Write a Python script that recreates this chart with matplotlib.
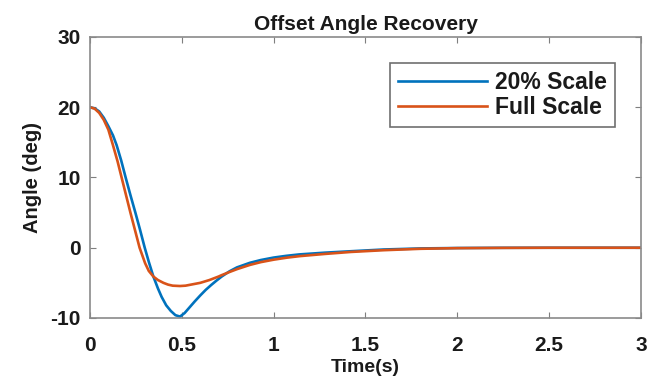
#!/usr/bin/env python3
"""Offset angle recovery: 20% scale model vs full scale response."""
import matplotlib

matplotlib.use("Agg")
import matplotlib.pyplot as plt  # noqa: E402

# time samples (s) and angle response (deg) for each model
t_small = [0.0, 0.025, 0.05, 0.075, 0.1, 0.125, 0.145, 0.17, 0.194, 0.22,
           0.247, 0.272, 0.298, 0.32, 0.345, 0.37, 0.39, 0.415, 0.44, 0.465,
           0.49, 0.515, 0.545, 0.57, 0.6, 0.63, 0.66, 0.69, 0.717, 0.76, 0.8,
           0.87, 0.93, 1.0, 1.07, 1.14, 1.28, 1.42, 1.6, 1.8, 2.0, 2.25, 2.5,
           3.0]
angle_small = [20.0, 19.85, 19.4, 18.5, 17.3, 16.0, 14.6, 12.4, 10.0, 7.5,
               5.0, 2.6, 0.0, -2.0, -4.1, -5.8, -7.0, -8.2, -9.0, -9.6,
               -9.8, -9.3, -8.4, -7.65, -6.8, -6.0, -5.3, -4.65, -4.1, -3.35,
               -2.8, -2.15, -1.75, -1.4, -1.15, -0.95, -0.7, -0.5, -0.25,
               -0.1, -0.04, -0.01, 0.0, 0.0]

t_full = [0.0, 0.025, 0.05, 0.075, 0.1, 0.125, 0.15, 0.172, 0.196, 0.22,
          0.245, 0.27, 0.3, 0.32, 0.345, 0.37, 0.4, 0.425, 0.45, 0.49, 0.52,
          0.55, 0.6, 0.65, 0.7, 0.717, 0.76, 0.8, 0.87, 0.93, 1.0, 1.07,
          1.14, 1.28, 1.42, 1.6, 1.8, 2.0, 2.25, 2.5, 3.0]
angle_full = [20.0, 19.8, 19.2, 18.2, 16.8, 14.6, 12.3, 10.0, 7.5, 5.0,
              2.5, 0.0, -2.2, -3.3, -4.1, -4.6, -5.0, -5.25, -5.4, -5.45,
              -5.4, -5.25, -5.0, -4.6, -4.1, -3.9, -3.45, -3.05, -2.45,
              -2.05, -1.7, -1.42, -1.2, -0.88, -0.6, -0.35, -0.15, -0.06,
              -0.02, 0.0, 0.0]

x_ticks = [0, 0.5, 1, 1.5, 2, 2.5, 3]
x_tick_labels = ["0", "0.5", "1", "1.5", "2", "2.5", "3"]
y_ticks = [-10, 0, 10, 20, 30]

plt.rcParams["font.family"] = ["Liberation Sans", "DejaVu Sans"]
plt.rcParams["font.weight"] = "bold"
plt.rcParams["axes.unicode_minus"] = False

fig, ax = plt.subplots(figsize=(6.57, 3.81), dpi=100)
fig.subplots_adjust(left=0.137, right=0.9756, top=0.9029, bottom=0.1654)

ax.plot(t_small, angle_small, color="#0072BD", linewidth=1.9, label="20% Scale")
ax.plot(t_full, angle_full, color="#D95319", linewidth=1.9, label="Full Scale")

ax.set_xlim(0, 3)
ax.set_ylim(-10, 30)
ax.set_xticks(x_ticks)
ax.set_xticklabels(x_tick_labels)
ax.set_yticks(y_ticks)

ax.tick_params(direction="in", top=True, right=True, length=4, width=0.8,
               colors="#7f7f7f", labelcolor="#1a1a1a", labelsize=15)
ax.tick_params(axis="x", pad=13)
ax.tick_params(axis="y", pad=6.5)
for spine in ax.spines.values():
    spine.set_color("#8a8a8a")
    spine.set_linewidth(1.2)

ax.set_title("Offset Angle Recovery", fontsize=15, fontweight="bold",
             color="#1a1a1a", pad=5)
ax.set_xlabel("Time(s)", fontsize=14, fontweight="bold", color="#1a1a1a",
              labelpad=3)
ax.set_ylabel("Angle (deg)", fontsize=14.5, fontweight="bold",
              color="#1a1a1a", labelpad=6)

leg = ax.legend(loc="upper right", bbox_to_anchor=(0.953, 0.907),
                borderaxespad=0, fontsize=16.5, fancybox=False, framealpha=1,
                edgecolor="#6f6f6f", handlelength=3.9, handletextpad=0.35,
                borderpad=0.35, labelspacing=0.1)
leg.get_frame().set_linewidth(1.2)
for txt in leg.get_texts():
    txt.set_color("#1a1a1a")

fig.savefig("out.png", dpi=100)
